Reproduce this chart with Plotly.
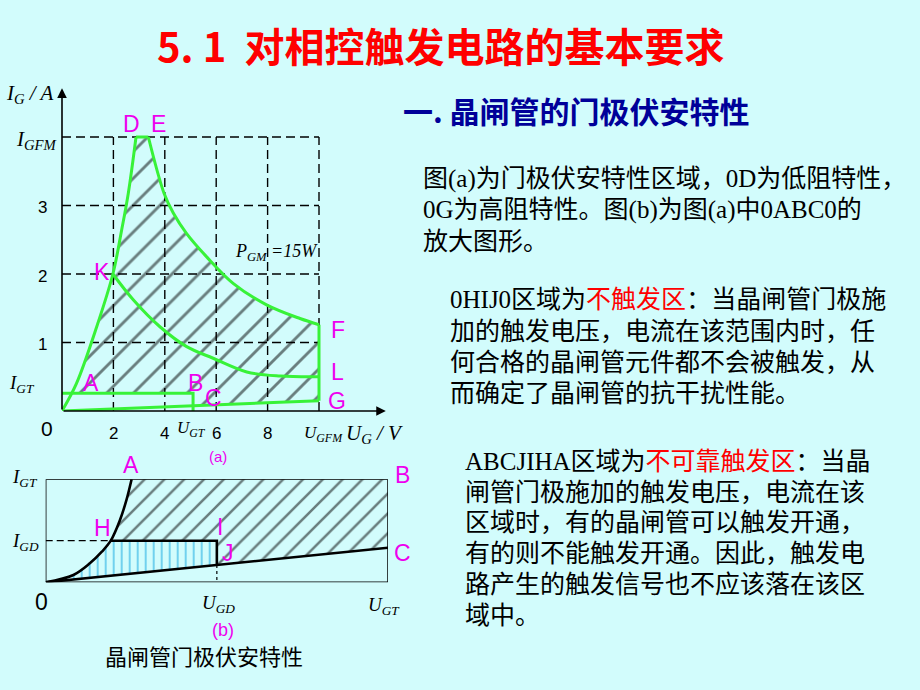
import numpy as np
import plotly.graph_objects as go

W, H = 920, 690

# ---------------- panel (a): gate V-I region ----------------
a_x_ticks = [2, 4, 6, 8]
a_x_tick_text = ["2", "4", "6", "8"]
a_y_ticks = [1, 2, 3]
a_y_tick_text = ["1", "2", "3"]
U_GFM = 10.0
I_GFM = 4.0
U_GT = 5.1
I_GT = 0.26
a_u_max = 12.6
a_i_max = 4.71

# 0D  (low-resistance characteristic)
curve_0D_u = [0.0, 0.56, 1.35, 1.98, 2.32, 2.58, 2.88]
curve_0D_i = [0.0, 0.40, 1.23, 2.00, 2.64, 3.18, 4.00]
# EF  (P_GM = 15 W limit)
curve_EF_u = [3.36, 3.97, 4.33, 4.85, 5.63, 6.67, 7.96, 9.26, 10.0]
curve_EF_i = [4.00, 3.18, 2.89, 2.59, 2.25, 1.86, 1.55, 1.35, 1.26]
# KL
curve_KL_u = [1.98, 2.78, 3.81, 4.85, 5.88, 7.19, 8.50, 10.0]
curve_KL_i = [2.00, 1.62, 1.23, 0.94, 0.77, 0.57, 0.51, 0.50]
# 0G  (high-resistance characteristic)
line_0G_u = [0.0, 10.0]
line_0G_i = [0.0, 0.15]

# ---------------- panel (b): magnified 0ABC0 ----------------
b_curve_u = [0.0, 0.081, 0.129, 0.164, 0.190, 0.217, 0.236, 0.251]
b_curve_i = [0.0, 0.071, 0.184, 0.297, 0.404, 0.605, 0.800, 1.000]
b_line_u = [0.0, 1.0]
b_line_i = [0.0, 0.336]
b_U_GD = 0.5
b_I_GD = 0.404
b_U_GT = 1.0
b_I_GT = 1.0

GREEN = "#38F238"
MAG = "#EE00EE"
SANS = "Liberation Sans, Arial, sans-serif"
SERIF = "Liberation Serif, Times New Roman, serif"
CJK = "Noto Sans CJK SC"
BODY = "Liberation Serif, Noto Sans CJK SC"

fig = go.Figure()


def add_line(x, y, xa, ya, color, width, dash="solid", shape="linear"):
    fig.add_trace(go.Scatter(x=x, y=y, xaxis=xa, yaxis=ya, mode="lines",
                             line=dict(color=color, width=width, dash=dash, shape=shape),
                             hoverinfo="skip", showlegend=False))


def add_hatch(x, y, xa, ya, shape, color, size, solidity):
    fig.add_trace(go.Scatter(x=x, y=y, xaxis=xa, yaxis=ya, mode="lines", fill="toself",
                             line=dict(width=0, color="rgba(0,0,0,0)"),
                             fillcolor="rgba(0,0,0,0)",
                             fillpattern=dict(shape=shape, fgcolor=color, bgcolor="rgba(0,0,0,0)",
                                              size=size, solidity=solidity),
                             hoverinfo="skip", showlegend=False))


# ---- panel (a) hatched region ----
u_start = float(np.interp(I_GT, curve_0D_i, curve_0D_u))
i_G = float(np.interp(U_GFM, line_0G_u, line_0G_i))
i_C = float(np.interp(U_GT, line_0G_u, line_0G_i))
poly_u = [u_start] + [u for u, i in zip(curve_0D_u, curve_0D_i) if i > I_GT] + curve_EF_u + [U_GFM, U_GT, U_GT, u_start]
poly_i = [I_GT] + [i for i in curve_0D_i if i > I_GT] + curve_EF_i + [i_G, i_C, I_GT, I_GT]
add_hatch(poly_u, poly_i, "x", "y", "/", "black", 19, 0.15)

# dashed grid
gx, gy = [], []
for t in a_x_ticks + [U_GFM]:
    gx += [t, t, None]
    gy += [0, I_GFM, None]
for t in a_y_ticks + [I_GFM]:
    gx += [0, U_GFM, None]
    gy += [t, t, None]
add_line(gx, gy, "x", "y", "black", 1.4, dash="9px,5px")

# green boundaries
add_line(curve_0D_u, curve_0D_i, "x", "y", GREEN, 3, shape="spline")
add_line([curve_0D_u[-1], curve_EF_u[0]], [I_GFM, I_GFM], "x", "y", GREEN, 3)
add_line(curve_EF_u, curve_EF_i, "x", "y", GREEN, 3, shape="spline")
add_line([U_GFM, U_GFM], [curve_EF_i[-1], i_G], "x", "y", GREEN, 3)
add_line(line_0G_u, line_0G_i, "x", "y", GREEN, 3)
add_line(curve_KL_u, curve_KL_i, "x", "y", GREEN, 3, shape="spline")
add_line([0, U_GT, U_GT], [I_GT, I_GT, 0], "x", "y", GREEN, 3)

# ---- panel (b) ----
b_i_J = float(np.interp(b_U_GD, b_line_u, b_line_i))
hb_u = [u for u, i in zip(b_curve_u, b_curve_i) if i >= b_I_GD] + [b_U_GT, b_U_GT, b_U_GD, b_U_GD]
hb_i = [i for i in b_curve_i if i >= b_I_GD] + [b_I_GT, b_line_i[-1], b_i_J, b_I_GD]
hb_u.append(hb_u[0]); hb_i.append(hb_i[0])
add_hatch(hb_u, hb_i, "x2", "y2", "/", "black", 14, 0.18)

bl_u = [u for u, i in zip(b_curve_u, b_curve_i) if i <= b_I_GD] + [b_U_GD, b_U_GD, 0]
bl_i = [i for i in b_curve_i if i <= b_I_GD] + [b_I_GD, b_i_J, 0]
add_hatch(bl_u, bl_i, "x2", "y2", "|", "#0FA6E0", 8, 0.25)

add_line([0, b_U_GT, b_U_GT, 0, 0], [0, 0, b_I_GT, b_I_GT, 0], "x2", "y2", "black", 1.5)
add_line([0, b_curve_u[4]], [b_I_GD, b_I_GD], "x2", "y2", "black", 1.2, dash="7px,4px")
add_line([b_U_GD, b_U_GD], [b_i_J, 0], "x2", "y2", "black", 1.2, dash="dot")
add_line(b_curve_u, b_curve_i, "x2", "y2", "black", 2.6, shape="spline")
add_line(b_line_u, b_line_i, "x2", "y2", "black", 2.6)
add_line([b_curve_u[4], b_U_GD, b_U_GD], [b_I_GD, b_I_GD, b_i_J], "x2", "y2", "black", 2.6)

# ---------------- annotations ----------------
ann = []


def txt(text, x, y, size, color="black", family=SANS, xref="paper", yref="paper",
        xanchor="center", yanchor="middle"):
    if xref == "paper":
        x = x / W
    if yref == "paper":
        y = 1 - y / H
    ann.append(dict(text=text, x=x, y=y, xref=xref, yref=yref, showarrow=False,
                    xanchor=xanchor, yanchor=yanchor,
                    font=dict(size=size, color=color, family=family)))


# axes arrows (a)
ann.append(dict(x=a_u_max, y=0, ax=0, ay=0, xref="x", yref="y", axref="x", ayref="y",
                text="", showarrow=True, arrowhead=2, arrowsize=1.2, arrowwidth=1.6,
                arrowcolor="black", standoff=0, startstandoff=0))
ann.append(dict(x=0, y=a_i_max, ax=0, ay=0, xref="x", yref="y", axref="x", ayref="y",
                text="", showarrow=True, arrowhead=2, arrowsize=1.2, arrowwidth=1.6,
                arrowcolor="black", standoff=0, startstandoff=0))

# title & heading
txt("<b>5.\u00a01\u00a0\u00a0对相控触发电路的基本要求</b>", 155, 45, 40, "#FF0000", CJK, xanchor="left")
txt("<b>一.\u00a0晶闸管的门极伏安特性</b>", 401, 110, 30, "#000099", CJK, xanchor="left")

# body text
RED = '<span style="color:#FF0000">'
body = [
    ("图(a)为门极伏安特性区域，0D为低阻特性，", 421, 179),
    ("0G为高阻特性。图(b)为图(a)中0ABC0的", 421, 210),
    ("放大图形。", 421, 241),
    ("0HIJ0区域为" + RED + "不触发区</span>：当晶闸管门极施", 448, 300),
    ("加的触发电压，电流在该范围内时，任", 448, 331),
    ("何合格的晶闸管元件都不会被触发，从", 448, 362),
    ("而确定了晶闸管的抗干扰性能。", 448, 393),
    ("ABCJIHA区域为" + RED + "不可靠触发区</span>：当晶", 463, 461),
    ("闸管门极施加的触发电压，电流在该", 463, 492),
    ("区域时，有的晶闸管可以触发开通，", 463, 522),
    ("有的则不能触发开通。因此，触发电", 463, 553),
    ("路产生的触发信号也不应该落在该区", 463, 584),
    ("域中。", 463, 615),
]
for t, x, y in body:
    txt(t, x, y, 25, "black", BODY, xanchor="left")

# panel (a) labels
txt("<i>I</i><sub><i>G</i></sub><i> / A</i>", 30, 94, 21, family=SERIF)
txt("<i>I</i><sub><i>GFM</i></sub>", 36, 140, 21, family=SERIF)
txt("<i>I</i><sub><i>GT</i></sub>", 22, 384, 19, family=SERIF)
for v, t in zip(a_y_ticks, a_y_tick_text):
    txt(t, 42, v, 17, xref="paper", yref="y")
    ann[-1]["yshift"] = -2
for v, t in zip(a_x_ticks, a_x_tick_text):
    txt(t, v, 433, 17, xref="x")
txt("0", 47, 428, 21)
txt("<i>U</i><sub><i>GT</i></sub>", 191, 429, 17, family=SERIF)
txt("<i>U</i><sub><i>GFM</i></sub>", 323, 434, 17, family=SERIF)
txt("<i>U</i><sub><i>G</i></sub><i> / V</i>", 374, 434, 21, family=SERIF)
txt("<i>P</i><sub><i>GM</i></sub><i> =15W</i>", 276, 252, 18, family=SERIF)
txt("(a)", 218, 456, 15, MAG)
for lab, x, y in [("D", 131, 124), ("E", 158, 124), ("K", 102, 272), ("F", 338, 330),
                  ("L", 337, 372), ("G", 337, 401), ("A", 91, 383), ("B", 195, 383),
                  ("C", 213, 398)]:
    txt(lab, x, y, 23, MAG)

# panel (b) labels
for lab, x, y in [("A", 131, 465), ("B", 402, 475), ("H", 102, 528), ("I", 220, 527),
                  ("J", 228, 553), ("C", 402, 553)]:
    txt(lab, x, y, 23, MAG)
txt("<i>I</i><sub><i>GT</i></sub>", 25, 478, 19, family=SERIF)
txt("<i>I</i><sub><i>GD</i></sub>", 25, 542, 19, family=SERIF)
txt("0", 41, 602, 23)
txt("<i>U</i><sub><i>GD</i></sub>", 218, 604, 19, family=SERIF)
txt("<i>U</i><sub><i>GT</i></sub>", 384, 606, 19, family=SERIF)
txt("(b)", 223, 630, 18, MAG)
txt("晶闸管门极伏安特性", 204, 655, 22, "black", CJK)

# ---------------- layout ----------------
ax_common = dict(visible=False, fixedrange=True)
a_px_u = 25.7
a_px_i = 68.5
fig.update_layout(
    width=W, height=H, autosize=False,
    margin=dict(l=0, r=0, t=0, b=0),
    paper_bgcolor="#D2FCFC", plot_bgcolor="rgba(0,0,0,0)",
    showlegend=False,
    xaxis=dict(domain=[62 / W, (62 + a_u_max * a_px_u) / W], range=[0, a_u_max], **ax_common),
    yaxis=dict(domain=[1 - 411 / H, 1 - (411 - a_i_max * a_px_i) / H], range=[0, a_i_max], **ax_common),
    xaxis2=dict(domain=[45.7 / W, 388 / W], range=[0, 1], anchor="y2", **ax_common),
    yaxis2=dict(domain=[1 - 582.3 / H, 1 - 479.3 / H], range=[0, 1], anchor="x2", **ax_common),
    annotations=ann,
)

fig.write_html("out.html")
